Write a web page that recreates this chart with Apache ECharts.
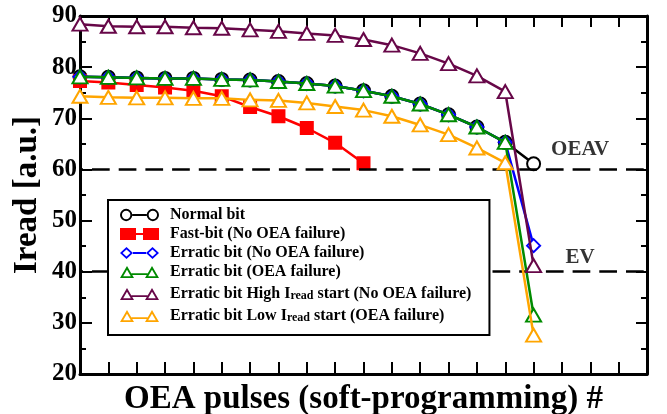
<!DOCTYPE html>
<html>
<head>
<meta charset="utf-8">
<script src="https://cdn.jsdelivr.net/npm/echarts@6/dist/echarts.min.js"></script>
<style>
html,body{margin:0;padding:0;background:#fff;}
#chart{width:667px;height:414px;}
</style>
</head>
<body>
<div id="chart"></div>
<script>
// ---- data ----
const pulses = [0,1,2,3,4,5,6,7,8,9,10,11,12,13,14,15,16];
const normalBit = [78.1,78.0,77.9,77.8,77.8,77.6,77.5,77.2,76.8,76.3,75.4,74.3,72.8,70.7,68.3,65.3,61.1];
const fastBit = [77.3,77.0,76.5,76.0,75.4,74.3,72.2,70.4,68.1,65.2,61.2];
const erraticNoFail = [78.1,78.0,77.9,77.8,77.8,77.6,77.5,77.2,76.8,76.3,75.4,74.3,72.8,70.7,68.3,65.3,45.1];
const erraticFail = [78.1,78.0,77.9,77.8,77.8,77.6,77.5,77.2,76.8,76.3,75.4,74.3,72.8,70.7,68.3,65.3,31.5];
const erraticHigh = [88.4,88.0,87.9,87.9,87.7,87.6,87.3,87.0,86.6,86.2,85.4,84.3,82.7,80.7,78.3,75.2,41.2];
const erraticLow = [74.3,74.1,74.0,74.0,73.9,73.9,73.6,73.5,73.0,72.3,71.6,70.4,68.7,66.8,64.2,61.3,27.6];
const seriesNames = [
  'Normal bit',
  'Fast-bit (No OEA failure)',
  'Erratic bit (No OEA failure)',
  'Erratic bit (OEA failure)',
  'Erratic bit High Iread start (No OEA failure)',
  'Erratic bit Low Iread start (OEA failure)'
];
const refLevels = [60, 40];
const refLabels = ['OEAV', 'EV'];
const refLabelPos = [[17.64, 63.9], [17.64, 42.8]];
const yTicks = [20, 90, 10];
const xRange = [0, 20, 1];

// ---- styles ----
const FONT = "'Liberation Serif','Times New Roman',serif";
const colors = ['#000000', '#ff0000', '#0000ff', '#008b00', '#670748', '#ffa500'];
const symbols = ['emptyCircle', 'rect', 'emptyDiamond', 'emptyTriangle', 'emptyTriangle', 'emptyTriangle'];
const symSizes = [13, 12, 13, [15, 13], [15, 13], [15, 13]];

const iconRing = 'path://M0.5,6.5 A6,6 0 1,1 12.5,6.5 A6,6 0 1,1 0.5,6.5 Z M2.4,6.5 A4.1,4.1 0 1,0 10.6,6.5 A4.1,4.1 0 1,0 2.4,6.5 Z M12.5,5.6 L26.5,5.6 L26.5,7.4 L12.5,7.4 Z M26.5,6.5 A6,6 0 1,1 38.5,6.5 A6,6 0 1,1 26.5,6.5 Z M28.4,6.5 A4.1,4.1 0 1,0 36.6,6.5 A4.1,4.1 0 1,0 28.4,6.5 Z';
const iconRect = 'path://M0,0.5 L16,0.5 L16,12.5 L0,12.5 Z M16,5.6 L23,5.6 L23,7.4 L16,7.4 Z M23,0.5 L39,0.5 L39,12.5 L23,12.5 Z';
const iconDiamond = 'path://M0,6.5 L6.5,0.5 L13,6.5 L6.5,12.5 Z M2.6,6.5 L6.5,10.1 L10.4,6.5 L6.5,2.9 Z M13,5.6 L26,5.6 L26,7.4 L13,7.4 Z M26,6.5 L32.5,0.5 L39,6.5 L32.5,12.5 Z M28.6,6.5 L32.5,10.1 L36.4,6.5 L32.5,2.9 Z';
const iconTri = 'path://M0,12.5 L7,0.5 L14,12.5 Z M3.2,10.7 L10.8,10.7 L7,4.2 Z M11.5,7.7 L27.5,7.7 L27.5,9.4 L11.5,9.4 Z M25,12.5 L32,0.5 L39,12.5 Z M28.2,10.7 L35.8,10.7 L32,4.2 Z';
const icons = [iconRing, iconRect, iconDiamond, iconTri, iconTri, iconTri];

const dataSets = [normalBit, fastBit, erraticNoFail, erraticFail, erraticHigh, erraticLow];

const series = dataSets.map((vals, i) => {
  const s = {
    name: seriesNames[i],
    type: 'line',
    data: vals.map((v, k) => [pulses[k], v]),
    symbol: symbols[i],
    symbolSize: symSizes[i],
    showAllSymbol: true,
    clip: false,
    lineStyle: { color: colors[i], width: 2.5 },
    itemStyle: { color: colors[i], borderColor: colors[i], borderWidth: 2 },
    emphasis: { disabled: true },
    animation: false,
    z: 3 + i
  };
  if (i === 0) {
    s.markLine = {
      silent: true,
      symbol: ['none', 'none'],
      label: { show: false },
      animation: false,
      lineStyle: { color: '#000', width: 2.5, type: [17.7, 9], dashOffset: 14.7 },
      data: refLevels.map(v => ({ yAxis: v }))
    };
  }
  return s;
});

series.push({
  type: 'scatter',
  name: 'refLabels',
  symbolSize: 0.1,
  itemStyle: { color: 'rgba(0,0,0,0)' },
  silent: true,
  animation: false,
  data: refLabelPos.map((p, i) => ({ value: p, label: { formatter: refLabels[i] } })),
  label: {
    show: true,
    position: 'inside',
    color: '#000',
    fontFamily: FONT,
    fontWeight: 'bold',
    fontSize: 21
  },
  z: 20
});

const axisLine = { show: true, onZero: false, lineStyle: { color: '#000', width: 3 } };
const tickStyle = { color: '#000', width: 2 };

const option = {
  animation: false,
  backgroundColor: '#fff',
  grid: { left: 80, right: 20, top: 16, bottom: 40, containLabel: false, outerBoundsMode: 'none' },
  xAxis: [
    {
      type: 'value', min: xRange[0], max: xRange[1], interval: xRange[2],
      position: 'bottom',
      axisLine: axisLine,
      axisTick: { show: true, inside: true, length: 12, lineStyle: tickStyle },
      axisLabel: { show: false },
      splitLine: { show: false },
      name: 'OEA pulses (soft-programming) #',
      nameLocation: 'middle',
      nameGap: 9,
      nameMoveOverlap: false,
      nameTextStyle: { fontFamily: FONT, fontWeight: 'bold', fontSize: 33, color: '#000', verticalAlign: 'top' }
    },
    {
      type: 'value', min: xRange[0], max: xRange[1], interval: xRange[2],
      position: 'top',
      axisLine: axisLine,
      axisTick: { show: true, inside: true, length: 11, lineStyle: tickStyle },
      axisLabel: { show: false },
      splitLine: { show: false }
    }
  ],
  yAxis: [
    {
      type: 'value', min: yTicks[0], max: yTicks[1], interval: yTicks[2],
      position: 'left',
      axisLine: axisLine,
      axisTick: { show: true, inside: true, length: 12, lineStyle: tickStyle },
      minorTick: { show: true, splitNumber: 2, length: 6, lineStyle: tickStyle },
      axisLabel: { show: true, margin: 3, color: '#000', fontFamily: FONT, fontWeight: 'bold', fontSize: 25 },
      splitLine: { show: false },
      minorSplitLine: { show: false },
      name: 'Iread [a.u.]',
      nameLocation: 'middle',
      nameGap: 36,
      nameMoveOverlap: false,
      nameTextStyle: { fontFamily: FONT, fontWeight: 'bold', fontSize: 33, color: '#000' }
    },
    {
      type: 'value', min: yTicks[0], max: yTicks[1], interval: yTicks[2],
      position: 'right',
      axisLine: axisLine,
      axisTick: { show: true, inside: true, length: 11, lineStyle: tickStyle },
      minorTick: { show: true, splitNumber: 2, length: 6, lineStyle: tickStyle },
      axisLabel: { show: false },
      splitLine: { show: false }
    }
  ],
  legend: {
    orient: 'vertical',
    left: 108,
    top: 200,
    padding: [7, 18, 11, 12],
    itemGap: 3,
    itemWidth: 39,
    itemHeight: 13,
    borderColor: '#000',
    borderWidth: 2,
    backgroundColor: '#fff',
    selectedMode: false,
    itemStyle: { borderWidth: 0 },
    data: seriesNames.map((n, i) => ({ name: n, icon: icons[i], itemStyle: { color: colors[i], borderWidth: 0 } })),
    formatter: name => name.replace('Iread', 'I{sub|read}'),
    textStyle: {
      fontFamily: FONT, fontWeight: 'bold', fontSize: 16, color: '#000', lineHeight: 16,
      padding: [0, 0, 0, 6],
      rich: {
        sub: { fontFamily: FONT, fontWeight: 'bold', fontSize: 12, color: '#000', lineHeight: 12, verticalAlign: 'bottom', padding: [7, 0, 0, 0] }
      }
    },
    z: 10
  },
  series: series
};

const chart = echarts.init(document.getElementById('chart'), null, { renderer: 'canvas' });
chart.setOption(option);
</script>
</body>
</html>
